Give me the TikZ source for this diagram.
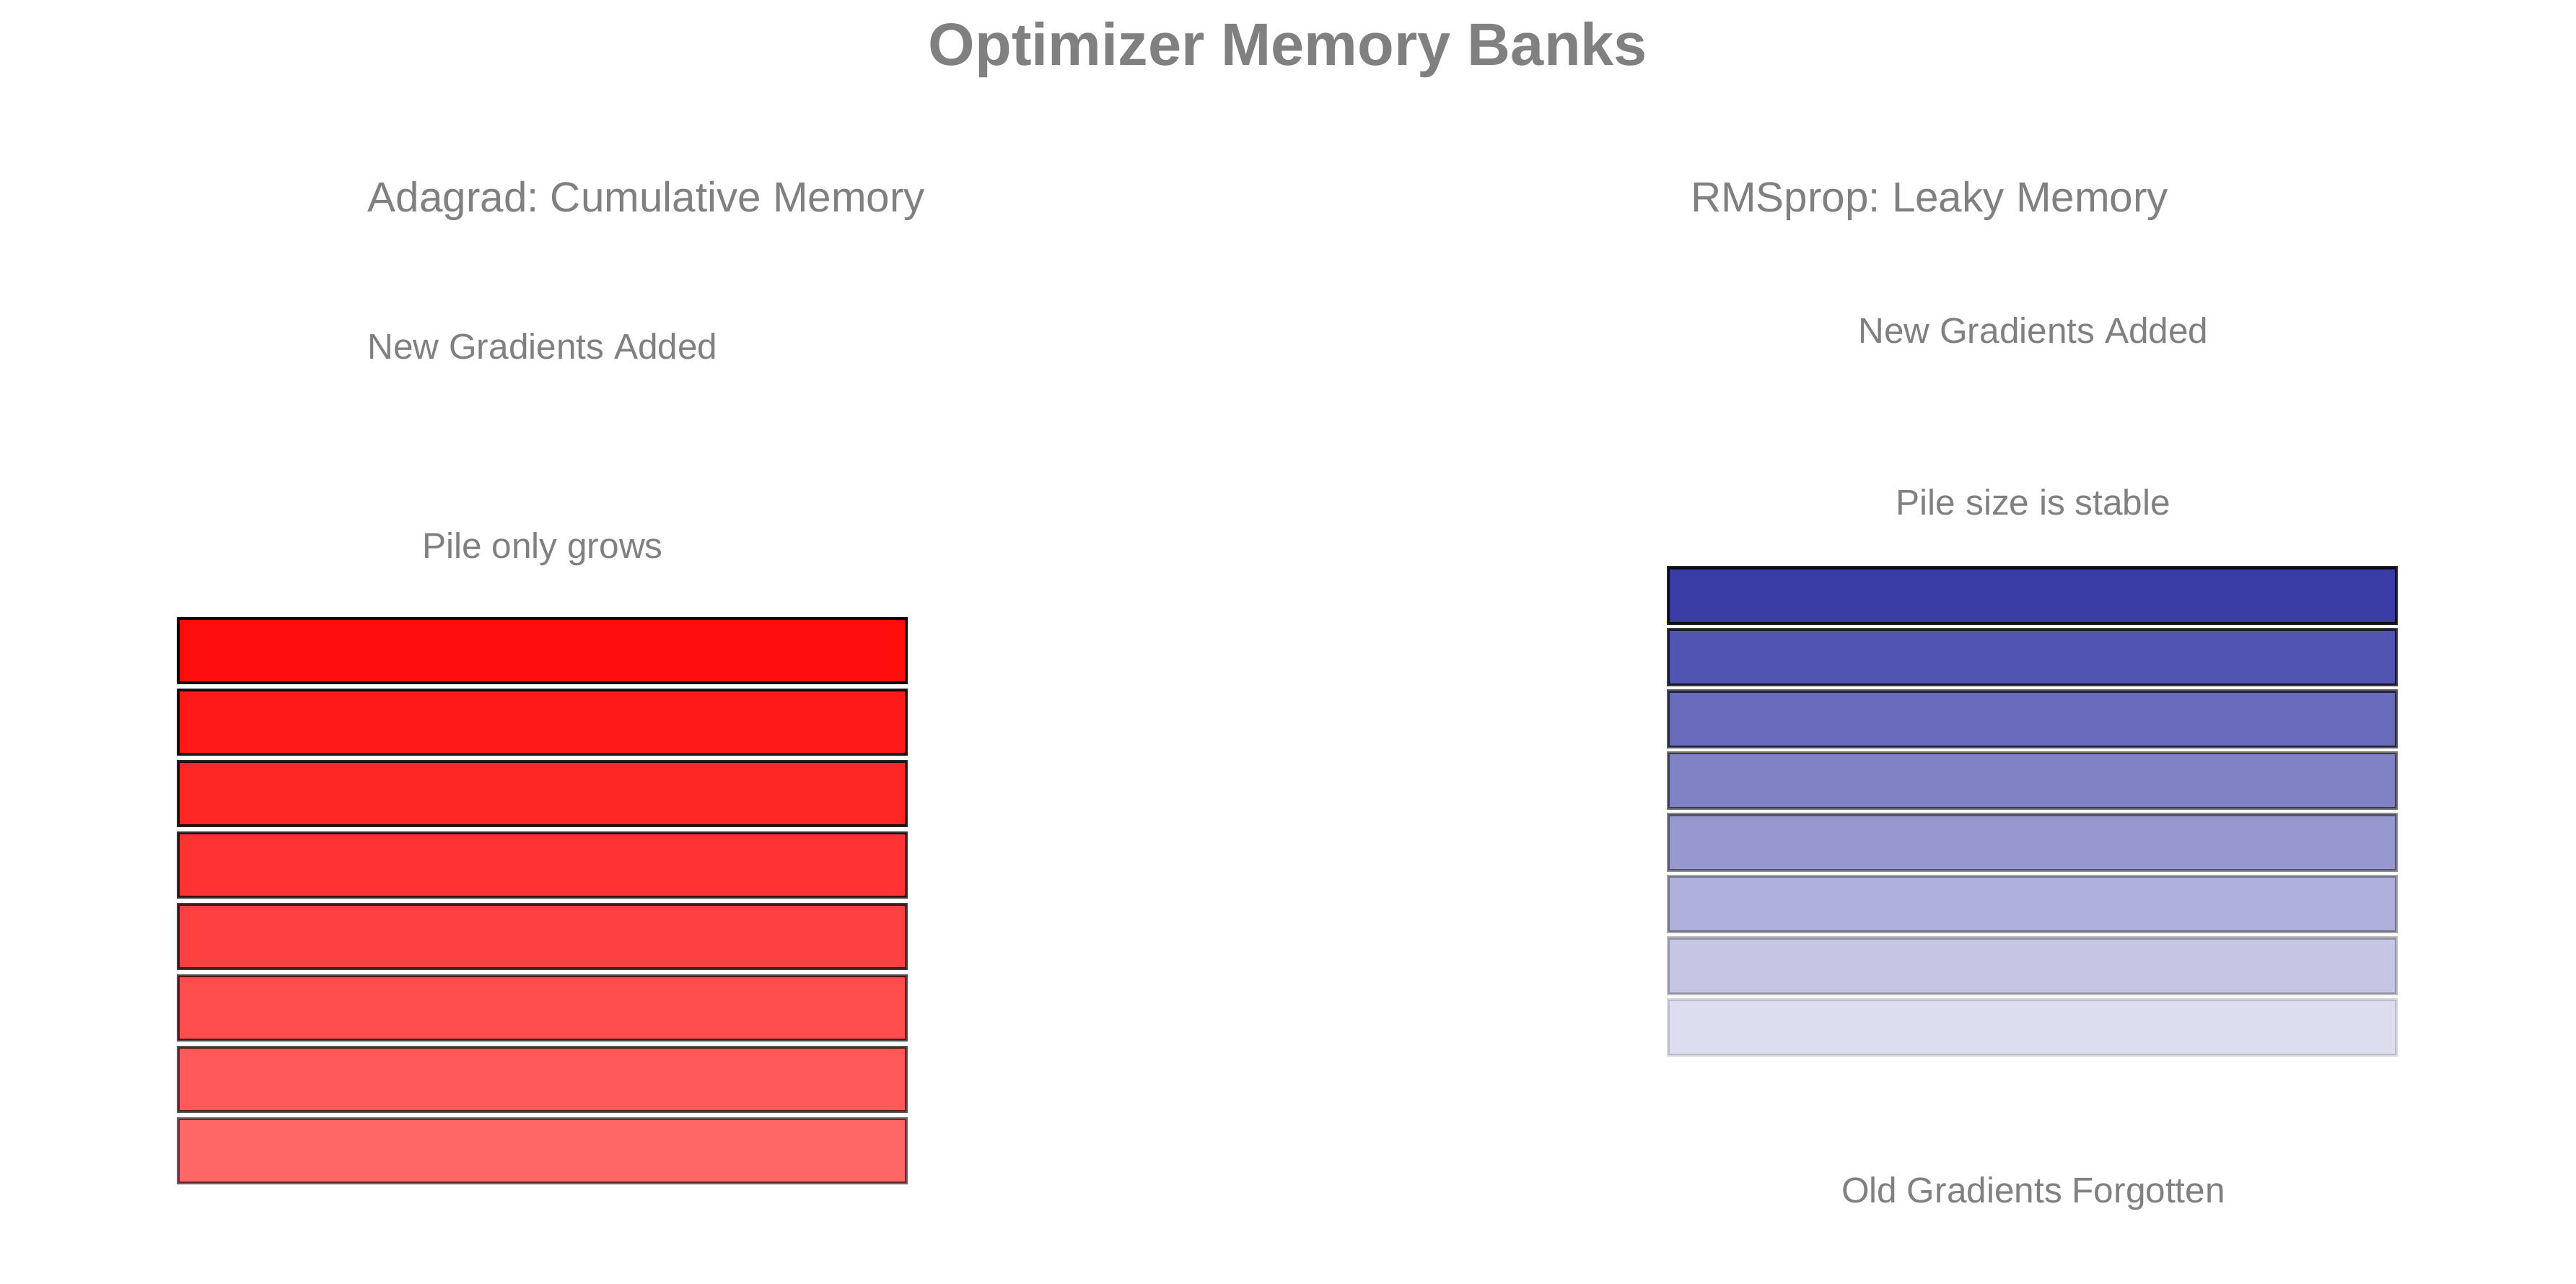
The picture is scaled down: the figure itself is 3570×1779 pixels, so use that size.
\documentclass[tikz,border=0pt]{standalone}
\usepackage{fontspec}
\setmainfont{Liberation Sans}
\frenchspacing
\definecolor{txtgray}{RGB}{128,128,128}
\definecolor{barred}{RGB}{255,0,0}
\definecolor{barblue}{RGB}{24,28,150}
\tikzset{
  lbl/.style={inner sep=0pt, anchor=base, text=txtgray},
  ttl/.style={lbl, font=\fontsize{23.6}{28}\selectfont\bfseries},
  sub/.style={lbl, font=\fontsize{16.6}{20}\selectfont},
  note/.style={lbl, font=\fontsize{14.1}{17}\selectfont},
  redbar/.style={draw=black, fill=barred, line width=1.15pt, inner sep=0pt,
    minimum width=10.09cm, minimum height=0.89cm},
  bluebar/.style={draw=black, fill=barblue, line width=1.15pt, inner sep=0pt,
    minimum width=10.09cm, minimum height=0.77cm}
}
\begin{document}
\begin{tikzpicture}[x=0.01cm, y=-0.01cm]
\useasboundingbox[fill=white] (0,0) rectangle (3570,1779);
\node[ttl] (title) at (1785,91) {Optimizer Memory Banks};
\node[sub] (subL) at (896,294) {Adagrad: Cumulative Memory};
\node[sub] (subR) at (2674,294) {RMSprop: Leaky Memory};
\node[note] (newL) at (752,497) {New Gradients Added};
\node[note] (pileL) at (752,773) {Pile only grows};
\node[note] (newR) at (2818,475) {New Gradients Added};
\node[note] (pileR) at (2818,713) {Pile size is stable};
\node[note] (oldR) at (2818,1666) {Old Gradients Forgotten};
\foreach \i in {0,...,7}{
  \pgfmathsetmacro{\ra}{0.95-0.05*\i}
  \pgfmathsetmacro{\ry}{901.5+99*\i}
  \node[redbar, opacity=\ra] (r\i) at (751.5,\ry) {};
  \pgfmathsetmacro{\ba}{0.85-0.1*\i}
  \pgfmathsetmacro{\by}{825+85.5*\i}
  \node[bluebar, opacity=\ba] (b\i) at (2816.5,\by) {};
}
\end{tikzpicture}
\end{document}
